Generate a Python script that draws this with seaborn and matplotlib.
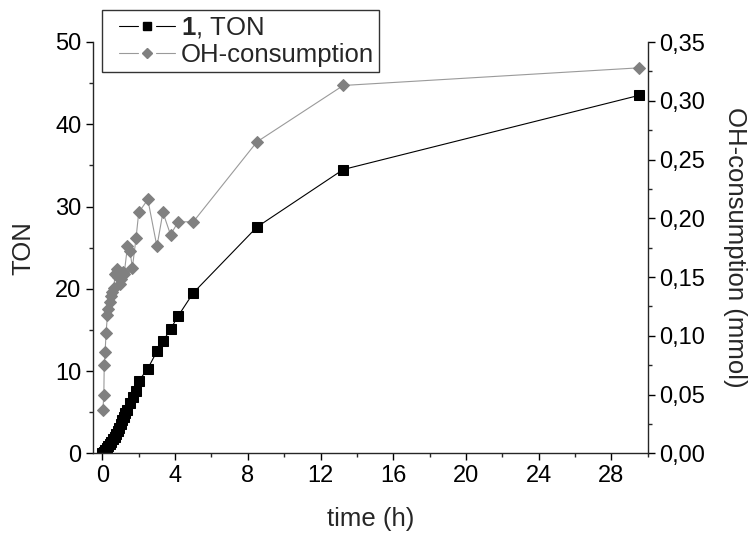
import matplotlib
matplotlib.use("Agg")
import matplotlib.pyplot as plt
import seaborn as sns
import numpy as np
from matplotlib.ticker import MultipleLocator, FuncFormatter
from matplotlib.legend_handler import HandlerBase
from matplotlib.lines import Line2D

# ---- data ----
ton_time = [0, 0.083, 0.167, 0.25, 0.333, 0.417, 0.5, 0.583, 0.667, 0.75, 0.833,
            0.917, 1.0, 1.083, 1.167, 1.25, 1.333, 1.5, 1.667, 1.833, 2.0, 2.5,
            3.0, 3.33, 3.75, 4.17, 5.0, 8.5, 13.25, 29.5]
ton_values = [0, 0.15, 0.35, 0.6, 0.85, 1.1, 1.4, 1.7, 2.0, 2.4, 2.75, 3.1, 3.55,
              4.0, 4.4, 4.9, 5.3, 6.1, 6.8, 7.6, 8.8, 10.3, 12.4, 13.6, 15.1,
              16.7, 19.5, 27.5, 34.5, 43.5]

oh_time = [0.03, 0.08, 0.1, 0.15, 0.2, 0.28, 0.33, 0.4, 0.47, 0.55, 0.63, 0.7,
           0.78, 0.87, 0.95, 1.03, 1.12, 1.2, 1.38, 1.52, 1.65, 1.85, 2.0, 2.5,
           3.0, 3.33, 3.75, 4.17, 5.0, 8.5, 13.25, 29.5]
oh_values = [0.037, 0.050, 0.075, 0.086, 0.102, 0.118, 0.123, 0.129, 0.134, 0.137,
             0.141, 0.153, 0.157, 0.150, 0.144, 0.148, 0.154, 0.153, 0.176, 0.172,
             0.158, 0.183, 0.205, 0.216, 0.176, 0.205, 0.186, 0.197, 0.197, 0.265,
             0.313, 0.328]

legend_labels = [r"$\mathbf{1}$, TON", "OH-consumption"]

sns.set_style("ticks")
plt.rcParams["font.family"] = ["Liberation Sans", "DejaVu Sans"]
plt.rcParams["mathtext.fontset"] = "custom"
plt.rcParams["mathtext.rm"] = "Liberation Sans"
plt.rcParams["mathtext.bf"] = "Liberation Sans:bold"

fig = plt.figure(figsize=(7.49, 5.35), dpi=100)
ax = fig.add_axes([93.3 / 749, 1 - 453.3 / 535, (647.7 - 93.3) / 749, (453.3 - 42) / 535])
ax2 = ax.twinx()

gray = "#808080"
gray_line = "#9a9a9a"
sns.lineplot(x=ton_time, y=ton_values, ax=ax, color="black", marker="s",
             markersize=6.5, markeredgecolor="black", linewidth=0.8,
             estimator=None, legend=False)
sns.lineplot(x=oh_time, y=oh_values, ax=ax2, color=gray, marker="D",
             markersize=6.5, markeredgecolor=gray, linewidth=0.8,
             estimator=None, legend=False)
for l in ax2.lines:
    l.set_color(gray_line)
    l.set_markerfacecolor(gray)
    l.set_markeredgecolor(gray)

ax.set_xlim(-0.5, 30)
ax.set_ylim(0, 50)
ax2.set_ylim(0, 0.35)

ax.xaxis.set_major_locator(MultipleLocator(4))
ax.xaxis.set_minor_locator(MultipleLocator(2))
ax.yaxis.set_major_locator(MultipleLocator(10))
ax.yaxis.set_minor_locator(MultipleLocator(5))
ax2.yaxis.set_major_locator(MultipleLocator(0.05))
ax2.yaxis.set_minor_locator(MultipleLocator(0.025))
ax2.yaxis.set_major_formatter(FuncFormatter(lambda v, p: f"{v:.2f}".replace(".", ",")))

for a in (ax, ax2):
    a.spines["top"].set_visible(False)
    for s in a.spines.values():
        s.set_linewidth(1.0)
    a.tick_params(which="major", direction="out", length=5, width=1.0,
                  labelsize=17, colors="black")
    a.tick_params(which="minor", direction="out", length=3, width=1.0)
ax2.spines["left"].set_visible(False)
ax2.spines["bottom"].set_visible(False)
ax.spines["right"].set_visible(False)

ax.set_xlabel("time (h)", fontsize=18.5, labelpad=14)
ax.set_ylabel("TON", fontsize=18.5, labelpad=14)
ax2.set_ylabel("OH-consumption (mmol)", fontsize=18.5, rotation=270, labelpad=30)


class GapHandler(HandlerBase):
    """Origin-style legend handle: line segment, gap, marker, gap, line segment."""

    def create_artists(self, legend, orig_handle, xdescent, ydescent,
                       width, height, fontsize, trans):
        y = height / 2 - ydescent
        x0 = -xdescent
        lead = 8.6
        seg = 13.7
        gap = 3.5
        ms = orig_handle.get_markersize()
        mw = 6.0
        s1a = x0 + lead
        s1b = s1a + seg
        xm = s1b + gap + mw / 2
        s2a = xm + mw / 2 + gap
        s2b = s2a + seg
        lc = orig_handle.get_color()
        lw = orig_handle.get_linewidth()
        l1 = Line2D([s1a, s1b], [y, y], color=lc, linewidth=lw, transform=trans)
        l2 = Line2D([s2a, s2b], [y, y], color=lc, linewidth=lw, transform=trans)
        m = Line2D([xm], [y], linestyle="none", marker=orig_handle.get_marker(),
                   markersize=ms * 0.85, markerfacecolor=orig_handle.get_markerfacecolor(),
                   markeredgecolor=orig_handle.get_markeredgecolor(), transform=trans)
        return [l1, l2, m]


h1 = ax.lines[0]
h2 = ax2.lines[0]
fig.legend([h1, h2], legend_labels,
           handler_map={h1: GapHandler(), h2: GapHandler()},
           loc="upper left", bbox_to_anchor=(102 / 749, 1 - 10 / 535),
           borderaxespad=0, frameon=True, fancybox=False, edgecolor="#333333",
           fontsize=18.5, handlelength=2.7, handletextpad=0.16,
           borderpad=0.2, labelspacing=0.1, framealpha=1)

fig.savefig("out.png", dpi=100)
